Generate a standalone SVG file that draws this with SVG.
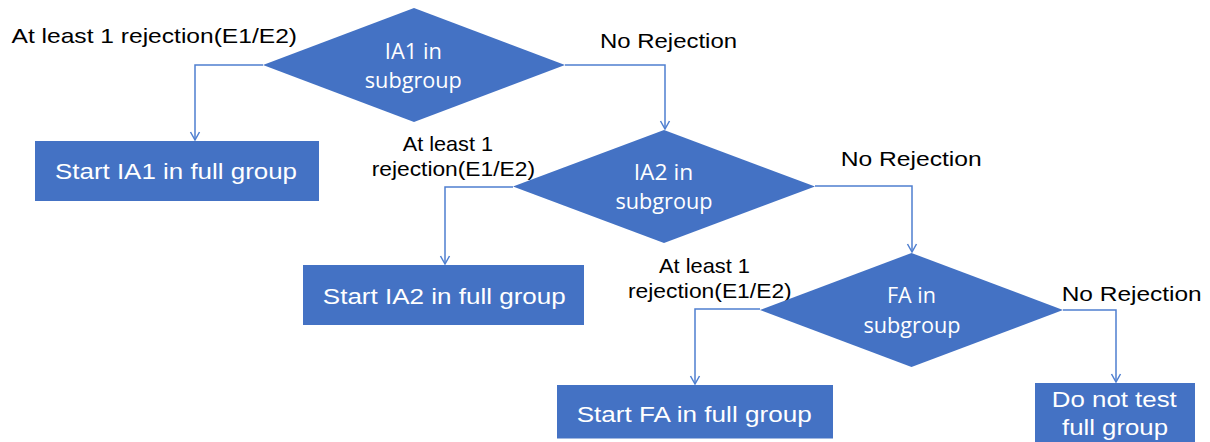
<svg xmlns="http://www.w3.org/2000/svg" width="1210" height="442" viewBox="0 0 1210 442">
<defs>
<style>
.node{fill:#4472C4;}
.lbl{font-family:"Liberation Sans",Arial,sans-serif;font-size:21px;fill:#000;}
.btx{font-family:"Liberation Sans",Arial,sans-serif;font-size:21.5px;fill:#fff;text-anchor:middle;}
.dtx{font-family:"Open Sans","Noto Sans",sans-serif;font-size:22px;fill:#fff;text-anchor:middle;}
.conn{fill:none;stroke:#4F7FD0;stroke-width:1.5;marker-end:url(#arr);}
</style>
<marker id="arr" markerUnits="userSpaceOnUse" viewBox="0 0 8 10" markerWidth="8" markerHeight="10" refX="8" refY="5" orient="auto" overflow="visible">
<path d="M0,0.5 L8,5 L0,9.5" fill="none" stroke="#4F7FD0" stroke-width="1.5"/>
</marker>
</defs>
<rect width="1210" height="442" fill="#fff"/>
<g id="connectors">
<polyline class="conn" points="263,65 195,65 195,140"/>
<polyline class="conn" points="565,65 665,65 665,129"/>
<polyline class="conn" points="513,187 445,187 445,264"/>
<polyline class="conn" points="815,186 912,186 912,252"/>
<polyline class="conn" points="760,309 695,309 695,384"/>
<polyline class="conn" points="1063,310 1116,310 1116,382"/>
</g>
<g id="labels">
<text class="lbl" x="11.5" y="42.7" textLength="285.5" lengthAdjust="spacingAndGlyphs">At least 1 rejection(E1/E2)</text>
<text class="lbl" x="600" y="48.3" textLength="137" lengthAdjust="spacingAndGlyphs">No Rejection</text>
<text class="lbl" x="402.7" y="151.3" textLength="90.3" lengthAdjust="spacingAndGlyphs">At least 1</text>
<text class="lbl" x="371.7" y="176.3" textLength="163.3" lengthAdjust="spacingAndGlyphs">rejection(E1/E2)</text>
<text class="lbl" x="840.7" y="165.7" textLength="141" lengthAdjust="spacingAndGlyphs">No Rejection</text>
<text class="lbl" x="659" y="273.3" textLength="91" lengthAdjust="spacingAndGlyphs">At least 1</text>
<text class="lbl" x="628" y="298.3" textLength="163.7" lengthAdjust="spacingAndGlyphs">rejection(E1/E2)</text>
<text class="lbl" x="1061.7" y="300.7" textLength="140" lengthAdjust="spacingAndGlyphs">No Rejection</text>
</g>
<g id="d1">
<polygon class="node" points="414,8 565,65 414,122 263,65"/>
<text class="dtx" x="413.3" y="59" textLength="57" lengthAdjust="spacingAndGlyphs">IA1 in</text>
<text class="dtx" x="413.3" y="88.3" textLength="97" lengthAdjust="spacingAndGlyphs">subgroup</text>
</g>
<g id="b1">
<rect class="node" x="35" y="141" width="284" height="60"/>
<text class="btx" x="176" y="179.3" textLength="242" lengthAdjust="spacingAndGlyphs">Start IA1 in full group</text>
</g>
<g id="d2">
<polygon class="node" points="664,130 815,186.5 664,243 513,186.5"/>
<text class="dtx" x="663.5" y="180" textLength="59.5" lengthAdjust="spacingAndGlyphs">IA2 in</text>
<text class="dtx" x="664" y="209.3" textLength="97" lengthAdjust="spacingAndGlyphs">subgroup</text>
</g>
<g id="b2">
<rect class="node" x="303" y="265" width="281" height="60"/>
<text class="btx" x="444.3" y="303.5" textLength="243" lengthAdjust="spacingAndGlyphs">Start IA2 in full group</text>
</g>
<g id="d3">
<polygon class="node" points="911.5,253 1063,310 911.5,367 760,310"/>
<text class="dtx" x="911.5" y="303.3" textLength="49" lengthAdjust="spacingAndGlyphs">FA in</text>
<text class="dtx" x="912" y="332.5" textLength="97" lengthAdjust="spacingAndGlyphs">subgroup</text>
</g>
<g id="b3">
<rect class="node" x="557" y="385" width="276" height="53.5"/>
<text class="btx" x="694.2" y="421.7" textLength="235" lengthAdjust="spacingAndGlyphs">Start FA in full group</text>
</g>
<g id="b4">
<rect class="node" x="1035" y="383" width="160" height="62"/>
<text class="btx" x="1114.3" y="406.7" textLength="125" lengthAdjust="spacingAndGlyphs">Do not test</text>
<text class="btx" x="1115" y="435" textLength="106" lengthAdjust="spacingAndGlyphs">full group</text>
</g>
</svg>
